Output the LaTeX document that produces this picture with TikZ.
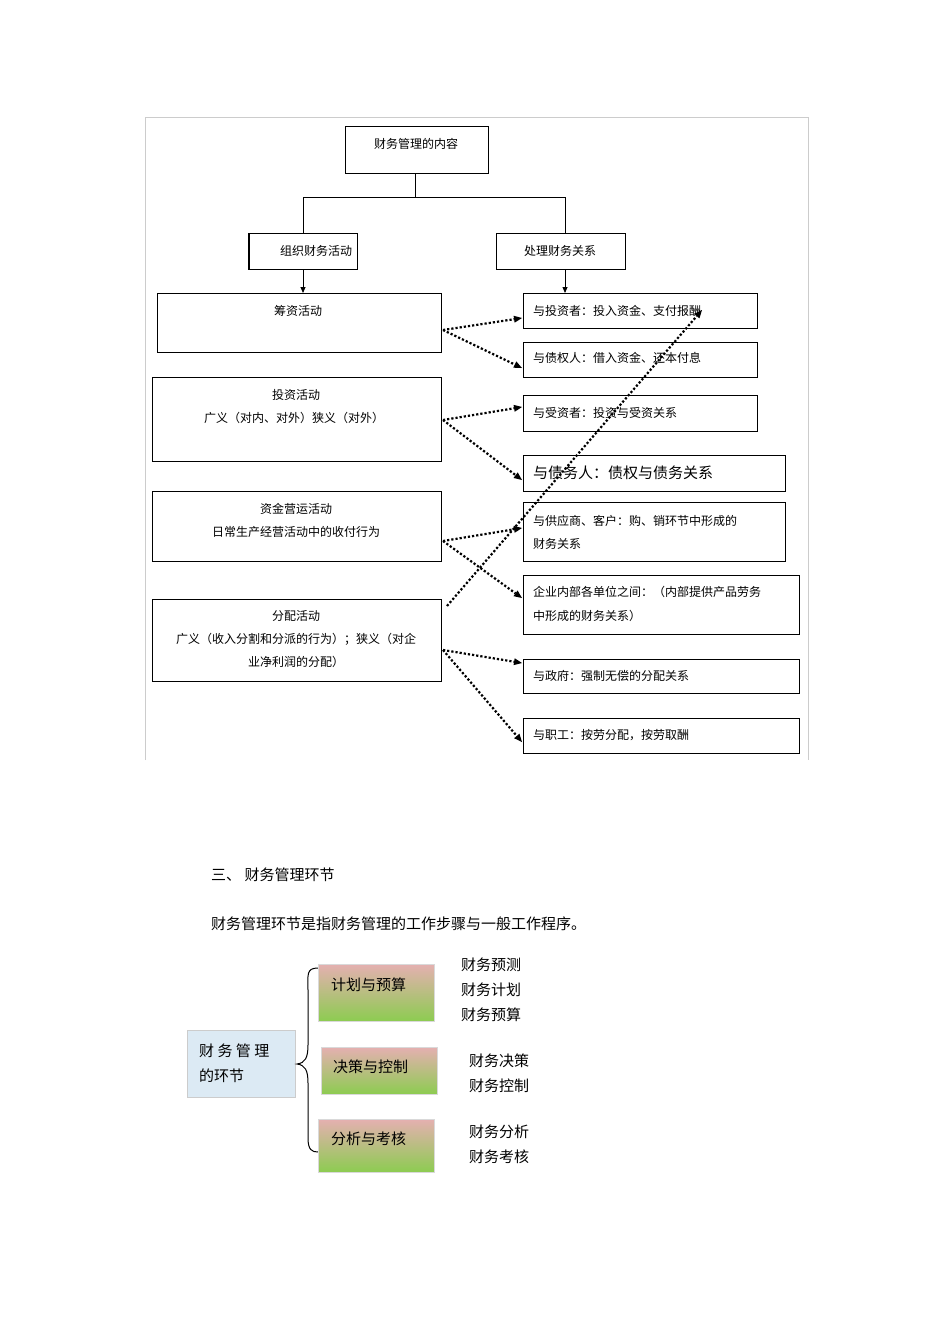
\documentclass[tikz,border=0pt]{standalone}
\usepackage{fontspec}
\setmainfont{Noto Sans CJK SC}
\usetikzlibrary{arrows.meta}
\definecolor{topc}{RGB}{228,176,176}
\definecolor{botc}{RGB}{140,204,80}
\definecolor{bluef}{RGB}{220,234,244}
\tikzset{
 bx/.style={draw,line width=0.8pt,inner sep=0pt},
 tx/.style={font=\fontsize{12}{14}\selectfont,inner sep=0pt,anchor=west},
 ct/.style={font=\fontsize{12}{14}\selectfont,inner sep=0pt},
 dar/.style={line width=2.2pt,dotted,-{Triangle[width=7pt,length=8pt,line width=0pt]}},
 sar/.style={line width=0.8pt,-{Triangle[width=5pt,length=6pt]}},
 gb/.style={top color=topc,bottom color=botc,draw=white!85!black,line width=0.5pt},
 st/.style={font=\fontsize{15}{18}\selectfont,inner sep=0pt,anchor=west},
}
\begin{document}
\begin{tikzpicture}[x=1pt,y=-1pt]
\useasboundingbox (0,0) rectangle (950,1344);
\fill[white] (0,0) rectangle (950,1344);
\draw[gray!40,line width=0.8pt] (145,760) -- (145,117) -- (808,117) -- (808,760);
% top
\draw[bx] (345,126) rectangle (488,173);
\node[ct] (top) at (416,144) {财务管理的内容};
\coordinate (t1) at (415,173);
\draw[line width=0.8pt] (415,173) -- (415,197) (303,233) -- (303,197) -- (565,197) -- (565,233);
\draw[bx] (248,233) rectangle (357,269);
\draw[line width=2pt] (249,233) -- (249,269);
\node[ct] (zz) at (316,251) {组织财务活动};
\draw[bx] (496,233) rectangle (625,269);
\node[ct] (cl) at (560,251) {处理财务关系};
\draw[sar] (303,269) -- (303,293);
\draw[sar] (565,269) -- (565,293);
% left boxes
\draw[bx] (157,293) rectangle (441,352);
\node[ct] (L1) at (298,311) {筹资活动};
\draw[bx] (152,377) rectangle (441,461);
\node[ct] at (296,395) {投资活动};
\node[ct] at (294,418) {广义（对内、对外）狭义（对外）};
\draw[bx] (152,491) rectangle (441,561);
\node[ct] at (296,509) {资金营运活动};
\node[ct] at (296,532) {日常生产经营活动中的收付行为};
\draw[bx] (152,599) rectangle (441,681);
\node[ct] at (296,616) {分配活动};
\node[ct] at (296,639) {广义（收入分割和分派的行为）；狭义（对企};
\node[ct] at (296,662) {业净利润的分配）};
% right boxes
\draw[bx] (523,293) rectangle (757,328);
\node[tx] at (533,311) {与投资者：投入资金、支付报酬};
\draw[bx] (523,342) rectangle (757,377);
\node[tx] at (533,358) {与债权人：借入资金、还本付息};
\draw[bx] (523,395) rectangle (757,431);
\node[tx] at (533,413) {与受资者：投资与受资关系};
\draw[bx] (523,455) rectangle (785,491);
\node[tx,font=\fontsize{15}{18}\selectfont] at (533,473) {与债务人：债权与债务关系};
\draw[bx] (523,502) rectangle (785,561);
\node[tx] at (533,521) {与供应商、客户：购、销环节中形成的};
\node[tx] at (533,544) {财务关系};
\draw[bx] (523,575) rectangle (799,634);
\node[tx] at (533,592) {企业内部各单位之间：（内部提供产品劳务};
\node[tx] at (533,616) {中形成的财务关系）};
\draw[bx] (523,659) rectangle (799,693);
\node[tx] at (533,676) {与政府：强制无偿的分配关系};
\draw[bx] (523,718) rectangle (799,753);
\node[tx] at (533,735) {与职工：按劳分配，按劳取酬};
% dotted arrows
\coordinate (a1) at (443,330); \draw[dar] (a1) -- (522,318); \draw[dar] (a1) -- (522,368);
\coordinate (a2) at (443,420); \draw[dar] (a2) -- (522,407); \draw[dar] (a2) -- (522,480);
\coordinate (a3) at (443,541); \draw[dar] (a3) -- (522,528); \draw[dar] (a3) -- (522,598);
\coordinate (a4) at (443,650); \draw[dar] (a4) -- (522,663); \draw[dar] (a4) -- (522,742);
\draw[dar] (447,606) -- (702,310);
% section 3
\node[anchor=west,inner sep=0pt,font=\fontsize{15}{18}\selectfont] at (211,875) {三、 财务管理环节};
\node[anchor=west,inner sep=0pt,font=\fontsize{15}{18}\selectfont] at (211,924) {财务管理环节是指财务管理的工作步骤与一般工作程序。};
\node[draw=white!80!black,fill=bluef,minimum width=108pt,minimum height=67pt,inner sep=0pt] (hj) at (241,1064) {};
\node[st] at (199,1051) {财 务 管 理};
\node[st] at (199,1076) {的环节};
\draw[line width=1pt] (318,968) .. controls (306,968) and (308,975) .. (308,990) -- (308,1045) .. controls (308,1058) and (305,1063) .. (297,1064)
 .. controls (305,1065) and (308,1070) .. (308,1083) -- (308,1138) .. controls (308,1150) and (312,1152) .. (318,1152);
\node[gb,minimum width=116pt,minimum height=57pt,inner sep=0pt] (b1) at (376,993) {};
\node[st] at (331,985) {计划与预算};
\node[gb,minimum width=116pt,minimum height=47pt,inner sep=0pt] (b2) at (379,1071) {};
\node[st] at (333,1067) {决策与控制};
\node[gb,minimum width=116pt,minimum height=53pt,inner sep=0pt] (b3) at (376,1146) {};
\node[st] at (331,1139) {分析与考核};
\node[st] at (461,965) {财务预测};
\node[st] at (461,990) {财务计划};
\node[st] at (461,1015) {财务预算};
\node[st] at (469,1061) {财务决策};
\node[st] at (469,1086) {财务控制};
\node[st] at (469,1132) {财务分析};
\node[st] at (469,1157) {财务考核};
\end{tikzpicture}
\end{document}
